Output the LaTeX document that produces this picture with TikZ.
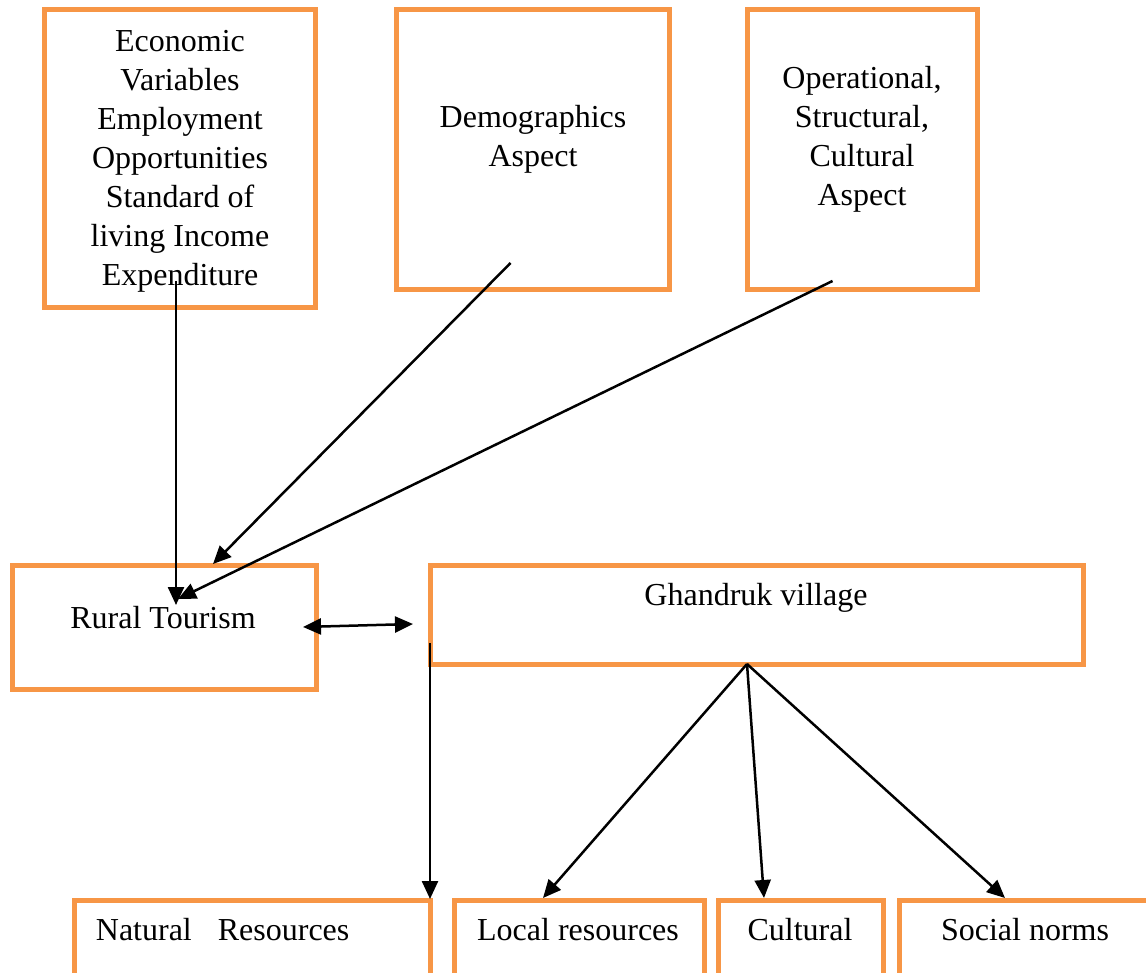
\documentclass[tikz,border=0pt]{standalone}
\usepackage{fontspec}
\setmainfont{Liberation Serif}
\usetikzlibrary{arrows.meta}
\definecolor{boxorange}{HTML}{F79646}
\tikzset{
  frame/.style={draw=boxorange, line width=5pt, rectangle, inner sep=0pt, outer sep=0pt, anchor=north west},
  label text/.style={inner sep=0pt, anchor=base, align=center, font=\fontsize{32}{39}\selectfont},
  link/.style={draw=black, line width=2.5pt, -{Triangle[length=18pt,width=16pt]}},
  twoway/.style={draw=black, line width=2.5pt, {Triangle[length=18pt,width=16pt]}-{Triangle[length=18pt,width=16pt]}},
}
\begin{document}
\begin{tikzpicture}[x=1pt,y=-1pt]
\useasboundingbox[fill=white] (0,0) rectangle (1146,973);

% upper row of factor boxes
\node[frame, minimum width=271.5pt, minimum height=298pt] (econ) at (44,9.5) {};
\node[frame, minimum width=273.5pt, minimum height=280.5pt] (demo) at (396,9.5) {};
\node[frame, minimum width=230pt, minimum height=280.5pt] (oper) at (747.5,9.5) {};

% multi-line labels are placed by the baseline of their last line
\node[label text] (econT) at (180,286) {Economic\\Variables\\Employment\\Opportunities\\Standard of\\living Income\\Expenditure};
\node[label text] (demoT) at (533,167) {Demographics\\Aspect};
\node[label text] (operT) at (862,206) {Operational,\\Structural,\\Cultural\\Aspect};

% middle row
\node[frame, minimum width=304pt, minimum height=124pt] (rural) at (12,565.5) {};
\node[frame, minimum width=652.5pt, minimum height=99pt] (ghan) at (430.5,565) {};
\node[label text] (ruralT) at (163,628) {Rural Tourism};
\node[label text] (ghanT) at (756,605) {Ghandruk village};

% bottom row
\node[frame, minimum width=356pt, minimum height=76pt] (natural) at (74,900) {};
\node[frame, minimum width=250pt, minimum height=76pt] (local) at (454,900) {};
\node[frame, minimum width=165pt, minimum height=76pt] (cult) at (718,900) {};
\node[frame, minimum width=250.5pt, minimum height=76pt] (social) at (899.5,900) {};
\node[label text, anchor=base west] (naturalT) at (95.7,940) {Natural\hspace*{26pt}Resources};
\node[label text] (localT) at (578,940) {Local resources};
\node[label text] (cultT) at (800,940) {Cultural};
\node[label text] (socialT) at (1025,940) {Social norms};

% connector end points
\coordinate (econOut) at (176,281);
\coordinate (demoOut) at (510.5,263);
\coordinate (operOut) at (832.5,281);
\coordinate (ruralInA) at (176,605);
\coordinate (ruralInB) at (213,564);
\coordinate (ruralInC) at (178,599);
\coordinate (ruralSide) at (303,627);
\coordinate (ghanSide) at (413,624);
\coordinate (ghanLeft) at (430,643);
\coordinate (ghanBase) at (747,664);
\coordinate (naturalIn) at (430,899);
\coordinate (localIn) at (543,898);
\coordinate (cultIn) at (764,898);
\coordinate (socialIn) at (1005,898);

% connectors
\draw[link] (econOut) -- (ruralInA);
\draw[link] (demoOut) -- (ruralInB);
\draw[link] (operOut) -- (ruralInC);
\draw[twoway] (ruralSide) -- (ghanSide);
\draw[link] (ghanLeft) -- (naturalIn);
\draw[link] (ghanBase) -- (localIn);
\draw[link] (ghanBase) -- (cultIn);
\draw[link] (ghanBase) -- (socialIn);
\end{tikzpicture}
\end{document}
